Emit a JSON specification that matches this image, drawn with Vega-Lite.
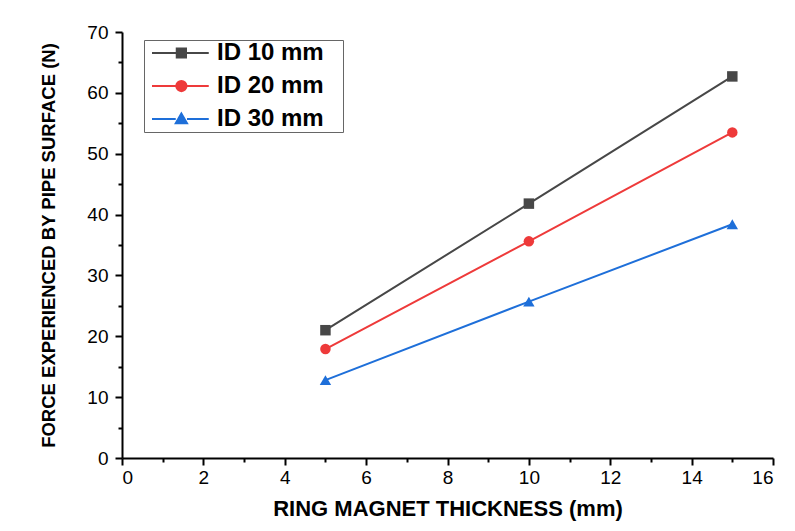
{
  "$schema": "https://vega.github.io/schema/vega-lite/v6.json",
  "width": 651,
  "height": 426,
  "autosize": {"type": "none"},
  "padding": {"left": 122, "top": 32, "right": 22, "bottom": 73},
  "background": "white",
  "config": {
    "view": {"stroke": null},
    "font": "Liberation Sans",
    "axis": {
      "domainColor": "black",
      "domainWidth": 2,
      "tickColor": "black",
      "tickWidth": 2,
      "grid": false,
      "labelFont": "Liberation Sans",
      "labelFontSize": 19,
      "labelColor": "black",
      "titleColor": "black",
      "titleFont": "Liberation Sans",
      "titleFontWeight": "bold"
    }
  },
  "data": {
    "values": [
      {"thickness": 5, "force": 21.0, "series": "ID 10 mm"},
      {"thickness": 10, "force": 41.8, "series": "ID 10 mm"},
      {"thickness": 15, "force": 62.7, "series": "ID 10 mm"},
      {"thickness": 5, "force": 17.9, "series": "ID 20 mm"},
      {"thickness": 10, "force": 35.6, "series": "ID 20 mm"},
      {"thickness": 15, "force": 53.5, "series": "ID 20 mm"},
      {"thickness": 5, "force": 12.8, "series": "ID 30 mm"},
      {"thickness": 10, "force": 25.7, "series": "ID 30 mm"},
      {"thickness": 15, "force": 38.4, "series": "ID 30 mm"}
    ]
  },
  "encoding": {
    "x": {
      "field": "thickness",
      "type": "quantitative",
      "scale": {"domain": [0, 16], "nice": false, "zero": false},
      "axis": {
        "values": [0, 1, 2, 3, 4, 5, 6, 7, 8, 9, 10, 11, 12, 13, 14, 15, 16],
        "labelExpr": "datum.value % 2 === 0 ? datum.label : ''",
        "tickSize": {"condition": {"test": "datum.value % 2 === 0", "value": 7}, "value": 4},
        "labelPadding": 3,
        "title": "RING MAGNET THICKNESS (mm)",
        "titleFontSize": 22,
        "titlePadding": 11
      }
    },
    "y": {
      "field": "force",
      "type": "quantitative",
      "scale": {"domain": [0, 70], "nice": false},
      "axis": {
        "values": [0, 5, 10, 15, 20, 25, 30, 35, 40, 45, 50, 55, 60, 65, 70],
        "labelExpr": "datum.value % 10 === 0 ? datum.label : ''",
        "tickSize": {"condition": {"test": "datum.value % 10 === 0", "value": 7}, "value": 4},
        "labelPadding": 7,
        "title": "FORCE EXPERIENCED BY PIPE SURFACE (N)",
        "titleFontSize": 18.5,
        "titlePadding": 28
      }
    },
    "color": {
      "field": "series",
      "type": "nominal",
      "scale": {
        "domain": ["ID 10 mm", "ID 20 mm", "ID 30 mm"],
        "range": ["#474747", "#ee3a3a", "#1e6fd9"]
      },
      "legend": {
        "orient": "none",
        "legendX": 22,
        "legendY": 8,
        "title": null,
        "strokeColor": "#666666",
        "fillColor": "white",
        "padding": 1,
        "labelFont": "Liberation Sans",
        "labelFontSize": 24,
        "labelFontWeight": "bold",
        "labelColor": "black",
        "labelExpr": "datum.label + '\u2800'",
        "labelOffset": 48,
        "rowPadding": 9,
        "symbolSize": 100,
        "symbolStrokeWidth": 2,
        "symbolOpacity": 1,
        "encode": {
          "symbols": {
            "update": {
              "stroke": {"scale": "color", "field": "value"},
              "fill": {"scale": "color", "field": "value"},
              "strokeWidth": {"value": 2},
              "opacity": {"value": 1}
            }
          }
        }
      }
    }
  },
  "layer": [
    {
      "mark": {"type": "line", "strokeWidth": 2},
      "encoding": {}
    },
    {
      "transform": [{"filter": "datum.series === 'ID 10 mm'"}],
      "mark": {"type": "point", "shape": "square", "filled": true, "size": 110, "opacity": 1}
    },
    {
      "transform": [{"filter": "datum.series === 'ID 20 mm'"}],
      "mark": {"type": "point", "shape": "circle", "filled": true, "size": 110, "opacity": 1}
    },
    {
      "transform": [{"filter": "datum.series === 'ID 30 mm'"}],
      "mark": {"type": "point", "shape": "triangle-up", "filled": true, "size": 130, "opacity": 1}
    },
    {
      "mark": {"type": "point", "filled": true, "opacity": 0, "size": 100},
      "encoding": {
        "shape": {
          "field": "series",
          "type": "nominal",
          "scale": {
            "domain": ["ID 10 mm", "ID 20 mm", "ID 30 mm"],
            "range": [
              "M-1,0H3.95M5.8,0H10.35M3.95,-0.92H5.8V0.92H3.95Z",
              "M-1,0H3.85M5.9,0H10.35M5.9,0A1.02,1.02 0 1,1 3.85,0A1.02,1.02 0 1,1 5.9,0Z",
              "M-1,0H3.75M6,0H10.35M4.87,-1.1L6,0.85H3.75Z"
            ]
          }
        }
      }
    }
  ]
}
